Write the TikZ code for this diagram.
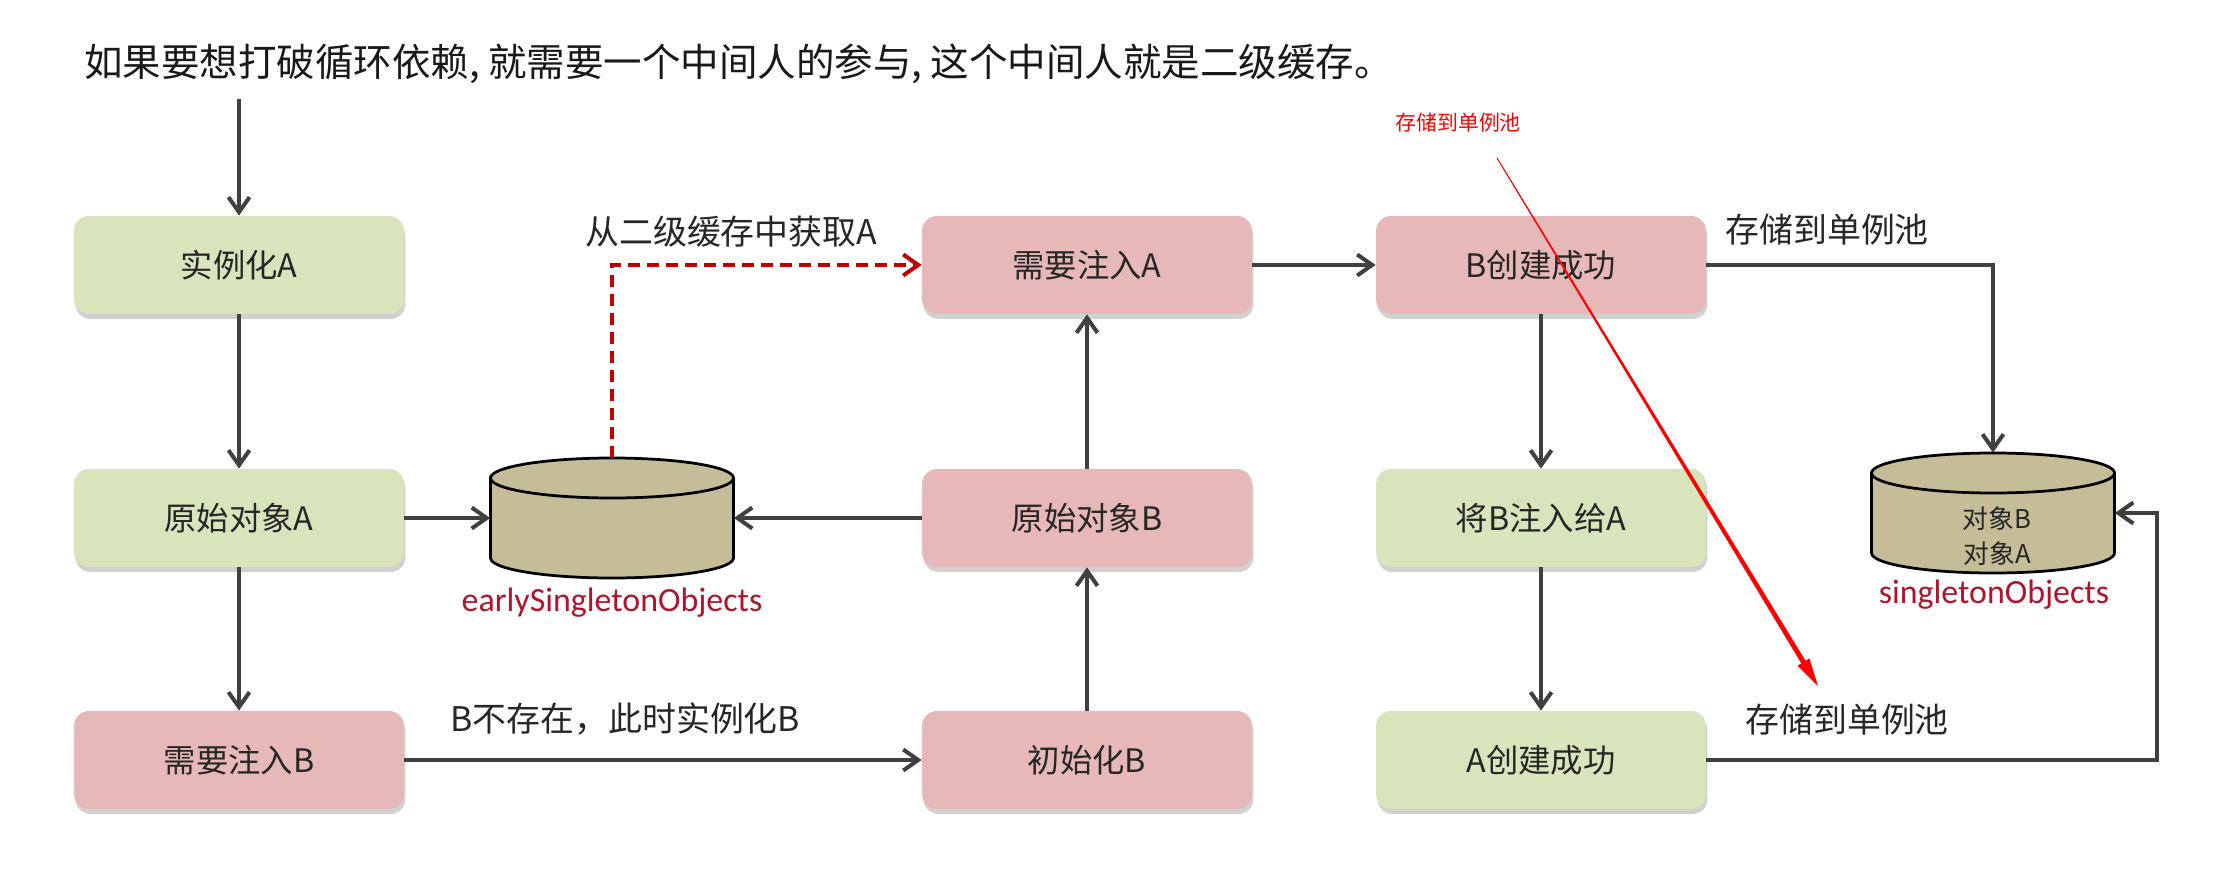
\documentclass[tikz,border=0pt]{standalone}
\usepackage{fontspec}
\setmainfont{Noto Sans CJK SC}
\newfontfamily\latf{Carlito}
\usetikzlibrary{arrows.meta,shadows,calc}
\definecolor{boxgreen}{HTML}{D8E4BC}
\definecolor{boxpink}{HTML}{E6B8B7}
\definecolor{cylfill}{HTML}{C4BD97}
\definecolor{arrgray}{HTML}{404040}
\definecolor{dashred}{HTML}{C00000}
\definecolor{lblred}{HTML}{B0142C}
\definecolor{txtdark}{HTML}{262626}
\newcommand\mycyl[2]{%
  \filldraw[cylstyle] (#1-121.5,#2-40) -- (#1-121.5,#2+40)
    arc[start angle=180,end angle=0,x radius=121.5,y radius=20]
    -- (#1+121.5,#2-40)
    arc[start angle=0,end angle=-180,x radius=121.5,y radius=20] -- cycle;
  \draw[cylstyle] (#1-121.5,#2-40)
    arc[start angle=180,end angle=0,x radius=121.5,y radius=20];}
\tikzset{
  flowbox/.style={rectangle, rounded corners=0.3cm, minimum width=6.6cm,
    minimum height=1.96cm, inner sep=0pt, text=txtdark,
    font=\fontsize{18.4pt}{20pt}\selectfont,
    drop shadow={shadow xshift=0.03cm, shadow yshift=-0.1cm, fill=black, opacity=0.18}},
  gbox/.style={flowbox, fill=boxgreen},
  pbox/.style={flowbox, fill=boxpink},
  cylnode/.style={rectangle, minimum width=4.86cm, minimum height=2.4cm, inner sep=0pt},
  cylstyle/.style={fill=cylfill, draw=black, line width=0.055cm},
  arr/.style={draw=arrgray, line width=0.08cm,
    -{Straight Barb[length=0.3cm, width=0.42cm]}},
  dasharr/.style={draw=dashred, line width=0.08cm, dash pattern=on 0.24cm off 0.14cm,
    -{Straight Barb[length=0.3cm, width=0.42cm]}},
  lbl/.style={anchor=west, inner sep=0pt, text=txtdark, font=\fontsize{19.3pt}{21pt}\selectfont},
  cachelbl/.style={inner sep=0pt, text=lblred, font=\latf\fontsize{19.3pt}{21pt}\selectfont},
}
\begin{document}
\begin{tikzpicture}[x=0.02cm, y=-0.02cm]
\fill[white] (0,0) rectangle (2216,888);
\useasboundingbox (0,0) rectangle (2216,888);

% title
\node[anchor=west, inner sep=0pt, text=black!90, font=\fontsize{21.9pt}{24pt}\selectfont] (title) at (84,64)
  {如果要想打破循环依赖, 就需要一个中间人的参与, 这个中间人就是二级缓存。};

% boxes
\node[gbox] (instA) at (239,265) {实例化A};
\node[gbox] (origA) at (239,518) {原始对象A};
\node[pbox] (needB) at (239,760) {需要注入B};
\node[pbox] (needA) at (1087,265) {需要注入A};
\node[pbox] (origB) at (1087,518) {原始对象B};
\node[pbox] (initB) at (1087,760) {初始化B};
\node[pbox] (Bok) at (1541,265) {B创建成功};
\node[gbox] (injB) at (1541,518) {将B注入给A};
\node[gbox] (Aok) at (1541,760) {A创建成功};

% caches
\node[cylnode] (ecache) at (612,518) {};
\mycyl{612}{518}
\node[cachelbl] (elbl) at (612,603) {earlySingletonObjects};

\node[cylnode] (scache) at (1993,513) {};
\mycyl{1993}{513}
\node[inner sep=0pt, align=center, text=txtdark, font=\fontsize{14.7pt}{19.5pt}\selectfont] (scontent) at (1997,536) {对象B\\对象A};
\node[cachelbl] (slbl) at (1994,595) {singletonObjects};

% coordinates
\coordinate (topstart) at (239,99);
\coordinate (rbend) at (2157,513);

% connectors
\draw[arr] (topstart) -- (instA);
\draw[arr] (instA) -- (origA);
\draw[arr] (origA) -- (needB);
\draw[arr] (origA.east) -- (ecache.west);
\draw[arr] (origB.west) -- (ecache.east);
\draw[arr] (needB.east) -- (initB.west);
\draw[arr] (initB) -- (origB);
\draw[arr] (origB) -- (needA);
\draw[dasharr] (ecache.north) |- (needA.west);
\draw[arr] (needA.east) -- (Bok.west);
\draw[arr] (Bok) -- (injB);
\draw[arr] (injB) -- (Aok);
\draw[arr] (Bok.east) -| (scache.north);
\draw[arr] (Aok.east) -| (rbend) -- (scache.east);

% edge labels
\node[lbl] (l1) at (585,232) {从二级缓存中获取A};
\node[lbl] (l2) at (450,719) {B不存在，此时实例化B};
\node[lbl] (l3) at (1725,230) {存储到单例池};
\node[lbl] (l4) at (1745,720) {存储到单例池};

% red annotation
\node[anchor=west, inner sep=0pt, text=red, font=\fontsize{11.9pt}{13pt}\selectfont] (anno) at (1395,123) {存储到单例池};
\coordinate (redtop) at (1497,158);
\coordinate (redtip) at (1818,686);
\coordinate (redbase) at ($(redtip)!0.56cm!(redtop)$);
\fill[red] ($(redtop)!0.01cm!90:(redtip)$)
  -- ($(redbase)!0.05cm!90:(redtip)$)
  -- ($(redbase)!0.14cm!90:(redtip)$)
  -- (redtip)
  -- ($(redbase)!0.14cm!-90:(redtip)$)
  -- ($(redbase)!0.05cm!-90:(redtip)$)
  -- ($(redtop)!0.01cm!-90:(redtip)$) -- cycle;
\end{tikzpicture}
\end{document}
